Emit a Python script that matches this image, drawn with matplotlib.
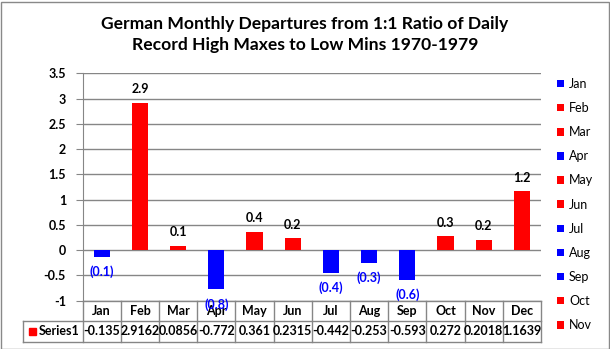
import matplotlib
matplotlib.use('Agg')
import matplotlib.pyplot as plt
import matplotlib.transforms as mtransforms
from matplotlib.patches import Rectangle

plt.rcParams['font.family'] = ['Lato', 'DejaVu Sans']

# data
months = ['Jan', 'Feb', 'Mar', 'Apr', 'May', 'Jun',
          'Jul', 'Aug', 'Sep', 'Oct', 'Nov', 'Dec']
departures = [-0.135, 2.9162, 0.0856, -0.772, 0.361, 0.2315,
              -0.442, -0.253, -0.593, 0.272, 0.2018, 1.1639]
series_name = 'Series1'
title_lines = ['German Monthly Departures from 1:1 Ratio of Daily',
               'Record High Maxes to Low Mins 1970-1979']

W, H = 610, 349
grid_gray = '#868686'
fs = 9

fig = plt.figure(figsize=(W / 100, H / 100), dpi=100)

# plot area in pixels (from top-left of picture)
left_px, right_px = 82.6, 541.0
top_px, bottom_px = 73.3, 300.7
ax = fig.add_axes([left_px / W, (H - bottom_px) / H,
                   (right_px - left_px) / W, (bottom_px - top_px) / H])


def fy(ypx):
    # pixel row (from top) -> axes fraction
    return (bottom_px - ypx) / (bottom_px - top_px)


x = list(range(len(months)))
colors = ['red' if v >= 0 else 'blue' for v in departures]
bars = ax.bar(x, departures, width=0.42, color=colors, zorder=3)

ax.set_xlim(-0.5, len(months) - 0.5)
ax.set_ylim(-1, 3.5)
ax.set_yticks([-1, -0.5, 0, 0.5, 1, 1.5, 2, 2.5, 3, 3.5])
ax.yaxis.set_major_formatter(matplotlib.ticker.FormatStrFormatter('%g'))
ax.set_xticks([])
ax.yaxis.grid(True, color=grid_gray, lw=1)
ax.set_axisbelow(True)
for s in ['top', 'right', 'bottom']:
    ax.spines[s].set_visible(False)
ax.spines['left'].set_color(grid_gray)
ax.tick_params(axis='y', length=5, color=grid_gray, pad=7, labelsize=fs)
for lab in ax.get_yticklabels():
    lab.set_fontweight('bold')

# data labels
for xi, v in zip(x, departures):
    if v >= 0:
        ax.annotate(f'{v:.1f}', (xi, v), xytext=(0, 13.5), textcoords='offset pixels',
                    ha='center', va='center', fontsize=fs, fontweight='bold',
                    color='black', zorder=4)
    else:
        ax.annotate(f'({abs(v):.1f})', (xi, v), xytext=(0, -15), textcoords='offset pixels',
                    ha='center', va='center', fontsize=fs, fontweight='bold',
                    color='blue', zorder=4, annotation_clip=False)

# data table below the plot
tr = mtransforms.blended_transform_factory(ax.transData, ax.transAxes)
row1_bot, row2_bot = 320.7, 342.0
cell_left = -0.5 - (left_px - 23) / ((right_px - left_px) / len(months))
lkw = dict(color=grid_gray, lw=1, transform=tr, clip_on=False)
for k in range(len(months) + 1):
    ax.plot([k - 0.5, k - 0.5], [fy(bottom_px), fy(row2_bot)], **lkw)
ax.plot([-0.5, len(months) - 0.5], [fy(bottom_px), fy(bottom_px)], **lkw)
ax.plot([cell_left, len(months) - 0.5], [fy(row1_bot), fy(row1_bot)], **lkw)
ax.plot([cell_left, len(months) - 0.5], [fy(row2_bot), fy(row2_bot)], **lkw)
ax.plot([cell_left, cell_left], [fy(row1_bot), fy(row2_bot)], **lkw)
for xi, m, v in zip(x, months, departures):
    ax.text(xi, fy((bottom_px + row1_bot) / 2), m, transform=tr, ha='center',
            va='center', fontsize=fs, fontweight='bold')
    ax.text(xi, fy((row1_bot + row2_bot) / 2), f'{v:g}', transform=tr, ha='center',
            va='center', fontsize=fs, fontweight='bold')
ax.add_patch(Rectangle((cell_left + 0.17, fy(334.5)), 0.17, fy(327.5) - fy(334.5),
                       color='red', transform=tr, clip_on=False))
ax.text(cell_left + 0.4, fy((row1_bot + row2_bot) / 2), series_name, transform=tr,
        ha='left', va='center', fontsize=fs, fontweight='bold')

# legend (one entry per point, the last one does not fit)
leg = fig.legend(bars.patches[:11], months[:11], loc='upper left',
                 bbox_to_anchor=(552 / W, 1 - 73 / H), frameon=False,
                 fontsize=fs, handlelength=0.55, handleheight=0.55,
                 handletextpad=0.4, labelspacing=0.97, borderaxespad=0)

# title
fig.text(305 / W, 1 - 24 / H, title_lines[0], ha='center', va='center',
         fontsize=12.6, fontweight='bold')
fig.text(305 / W, 1 - 45 / H, title_lines[1], ha='center', va='center',
         fontsize=12.6, fontweight='bold')

# chart border
fig.patches.append(Rectangle((0.5 / W, 0.5 / H), (W - 2) / W, (H - 2) / H,
                             transform=fig.transFigure, fill=False,
                             edgecolor='#898989', lw=1))

fig.savefig('out.png', dpi=100)
